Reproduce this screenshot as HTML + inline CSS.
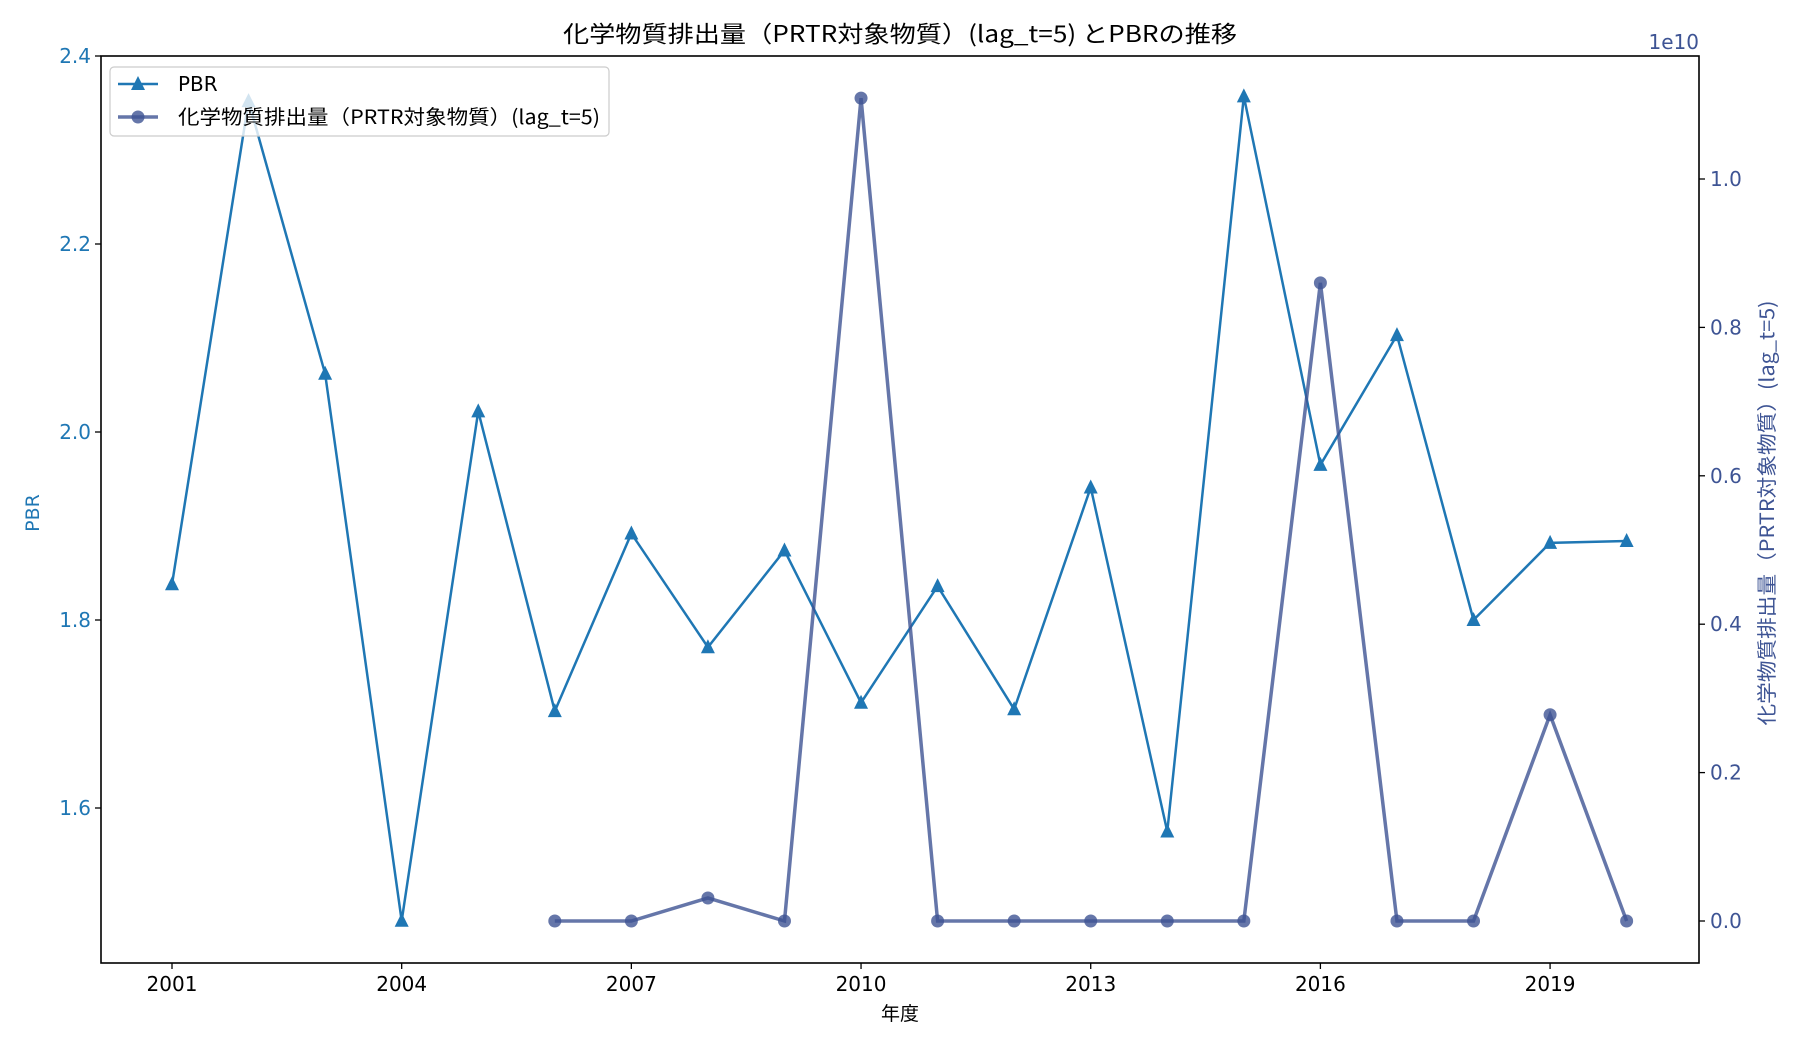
<!DOCTYPE html>
<html><head><meta charset="utf-8">
<style>
body{margin:0;background:#fff;}
svg text{font-family:"DejaVu Sans","Liberation Sans","Noto Sans CJK JP",sans-serif;}
</style></head>
<body>
<svg id="chart" width="1800" height="1050" xmlns="http://www.w3.org/2000/svg">
<rect width="1800" height="1050" fill="#fff"/>
<text x="900" y="42" text-anchor="middle" font-size="23" textLength="674" lengthAdjust="spacingAndGlyphs" fill="#000" style="font-family:'Noto Sans CJK JP',sans-serif">化学物質排出量（PRTR対象物質）(lag_t=5) とPBRの推移</text>
<g id="plot"></g>
</svg>
<script>
const years=[2001,2002,2003,2004,2005,2006,2007,2008,2009,2010,2011,2012,2013,2014,2015,2016,2017,2018,2019,2020];
const pbr=[1.838,2.352,2.062,1.480,2.022,1.703,1.892,1.771,1.874,1.712,1.836,1.705,1.941,1.575,2.357,1.965,2.103,1.800,1.882,1.884];
const emYears=[2006,2007,2008,2009,2010,2011,2012,2013,2014,2015,2016,2017,2018,2019,2020];
const emissions=[0,0,0.031,0,1.109,0,0,0,0,0,0.860,0,0,0.278,0];
const xTicks=[2001,2004,2007,2010,2013,2016,2019];
const yLeftTicks=[1.6,1.8,2.0,2.2,2.4];
const yRightTicks=[0.0,0.2,0.4,0.6,0.8,1.0];

const L=101,R=1699,T=56,B=963;
const NS='http://www.w3.org/2000/svg';
const g=document.getElementById('plot');
function X(y){return 172+(y-2001)*76.56;}
function YL(v){return 56+(2.4-v)*940;}
function YR(v){return 921-v*742;}
function el(tag,attrs,parent){const e=document.createElementNS(NS,tag);for(const k in attrs)e.setAttribute(k,attrs[k]);(parent||g).appendChild(e);return e;}
function txt(s,attrs){const e=el('text',attrs);e.textContent=s;return e;}

const pbrLine=el('polyline',{points:years.map((y,i)=>X(y)+','+YL(pbr[i])).join(' '),fill:'none',stroke:'#1f77b4','stroke-width':2.5});


years.forEach((y,i)=>{const x=X(y),yy=YL(pbr[i]);
 const m=el('polygon',{points:`${x},${yy-8} ${x-7},${yy+6} ${x+7},${yy+6}`,fill:'#1f77b4'});
 
 });

const emLine=el('polyline',{points:emYears.map((y,i)=>X(y)+','+YR(emissions[i])).join(' '),fill:'none',stroke:'#3e5494','stroke-width':3.5,'stroke-opacity':0.8});


emYears.forEach((y,i)=>{
 const c=el('circle',{cx:X(y),cy:YR(emissions[i]),r:6.5,fill:'#3e5494','fill-opacity':0.8});
 
 });

const fr=el('rect',{x:L,y:T,width:R-L,height:B-T,fill:'none',stroke:'#000','stroke-width':1.6});



xTicks.forEach(t=>{el('line',{x1:X(t),x2:X(t),y1:B,y2:B+6,stroke:'#000','stroke-width':1.3});
 const e=txt(t,{x:X(t),y:B+28,'text-anchor':'middle','font-size':20,fill:'#000'});
 
 });
yLeftTicks.forEach(t=>{el('line',{x1:L-6,x2:L,y1:YL(t),y2:YL(t),stroke:'#000','stroke-width':1.3});
 const e=txt(t.toFixed(1),{x:L-10,y:YL(t)+7,'text-anchor':'end','font-size':20,fill:'#1f77b4'});
 
 });
yRightTicks.forEach(t=>{el('line',{x1:R,x2:R+6,y1:YR(t),y2:YR(t),stroke:'#000','stroke-width':1.3});
 const e=txt(t.toFixed(1),{x:R+11,y:YR(t)+7,'font-size':20,fill:'#3e5494'});
 
 });
const ex=txt('1e10',{x:1699,y:49,'text-anchor':'end','font-size':20,fill:'#3e5494'});


const xt=txt('年度',{x:900,y:1020,'text-anchor':'middle','font-size':19,fill:'#000',style:"font-family:'Noto Sans CJK JP',sans-serif"});


const yl=txt('PBR',{x:0,y:0,'text-anchor':'middle','font-size':19,fill:'#1f77b4',transform:'translate(39,513) rotate(-90)'});


const yr=txt('化学物質排出量（PRTR対象物質）(lag_t=5)',{x:0,y:0,'text-anchor':'middle','font-size':20,textLength:425,lengthAdjust:'spacingAndGlyphs',fill:'#3e5494',transform:'translate(1774,513) rotate(-90)',style:"font-family:'Noto Sans CJK JP',sans-serif"});



const lg=el('g',{});


el('rect',{x:110,y:67,width:499,height:69,rx:4,fill:'#fff','fill-opacity':0.8,stroke:'#ccc','stroke-width':1.2},lg);
el('line',{x1:118,x2:158,y1:84,y2:84,stroke:'#1f77b4','stroke-width':2.5},lg);
el('polygon',{points:'138,76 131,90 145,90',fill:'#1f77b4'},lg);
const l1=txt('PBR',{x:178,y:91,'font-size':20,fill:'#000'});lg.appendChild(l1);


el('line',{x1:118,x2:158,y1:117,y2:117,stroke:'#3e5494','stroke-width':3.5,'stroke-opacity':0.8},lg);
el('circle',{cx:138,cy:117,r:6.5,fill:'#3e5494','fill-opacity':0.8},lg);
const l2=txt('化学物質排出量（PRTR対象物質）(lag_t=5)',{x:178,y:124,'font-size':20,textLength:422,lengthAdjust:'spacingAndGlyphs',fill:'#000',style:"font-family:'Noto Sans CJK JP',sans-serif"});lg.appendChild(l2);


</script>
</body></html>
